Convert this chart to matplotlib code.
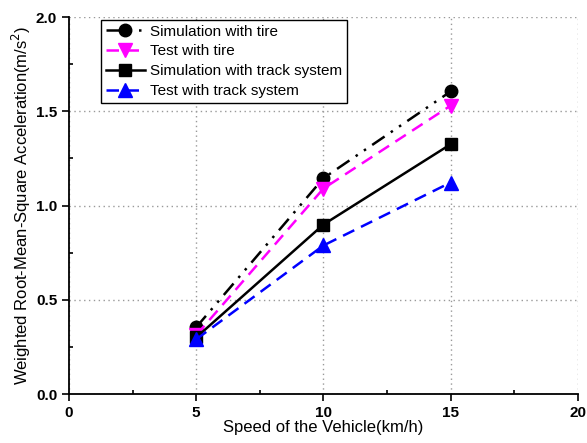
import numpy as np
import matplotlib
matplotlib.use('Agg')
import matplotlib.pyplot as plt
from matplotlib import rcParams
import matplotlib.ticker as mticker

rcParams['font.family'] = 'Liberation Sans'
rcParams.update({'font.size': 10})

speed = [5, 10, 15]
sim_tire = [0.354, 1.145, 1.605]
test_tire = [0.312, 1.09, 1.53]
sim_track = [0.30, 0.899, 1.325]
test_track = [0.29, 0.788, 1.122]

labels = ['Simulation with tire', 'Test with tire',
          'Simulation with track system', 'Test with track system']

fig = plt.figure(figsize=(5.87, 4.43), dpi=100)
ax = fig.add_axes([0.1175, 0.1106, 0.867, 0.851])

ax.plot(speed, sim_tire, color='black', linestyle=(0, (6, 3, 1, 3, 1, 3)),
        linewidth=1.8, marker='o', markersize=9, label=labels[0], zorder=3)
ax.plot(speed, test_tire, color='magenta', linestyle=(0, (5, 3)),
        linewidth=1.8, marker='v', markersize=10, label=labels[1], zorder=3)
ax.plot(speed, sim_track, color='black', linestyle='-',
        linewidth=1.8, marker='s', markersize=8, label=labels[2], zorder=3)
ax.plot(speed, test_track, color='blue', linestyle=(0, (5, 3)),
        linewidth=1.8, marker='^', markersize=10, label=labels[3], zorder=3)

ax.set_xlim(0, 20)
ax.set_ylim(0, 2.0)
ax.xaxis.set_major_locator(mticker.MultipleLocator(5))
ax.xaxis.set_minor_locator(mticker.MultipleLocator(2.5))
ax.yaxis.set_major_locator(mticker.MultipleLocator(0.5))
ax.yaxis.set_minor_locator(mticker.MultipleLocator(0.25))
ax.yaxis.set_major_formatter(mticker.FormatStrFormatter('%.1f'))

ax.tick_params(which='major', direction='out', length=5, width=1.2, labelsize=11)
ax.tick_params(which='minor', direction='in', length=3, width=1.2)
for lab in ax.get_xticklabels() + ax.get_yticklabels():
    lab.set_fontweight('bold')

ax.spines['top'].set_visible(False)
ax.spines['right'].set_visible(False)
ax.spines['left'].set_linewidth(1.3)
ax.spines['bottom'].set_linewidth(1.3)

ax.grid(True, which='major', color='#999999', linestyle=(0, (1, 2.5)), linewidth=1.0)

ax.set_xlabel('Speed of the Vehicle(km/h)', fontsize=12, labelpad=0)
ax.set_ylabel('Weighted Root-Mean-Square Acceleration(m/s$^2$)', fontsize=12, labelpad=2)

leg = ax.legend(loc='upper left', bbox_to_anchor=(0.063, 0.992), fontsize=11,
                frameon=True, fancybox=False, edgecolor='black', framealpha=1,
                handlelength=2.6, handletextpad=0.3, borderpad=0.3,
                labelspacing=0.38, borderaxespad=0)
leg.get_frame().set_linewidth(1.0)

plt.savefig('out.png', dpi=100)
